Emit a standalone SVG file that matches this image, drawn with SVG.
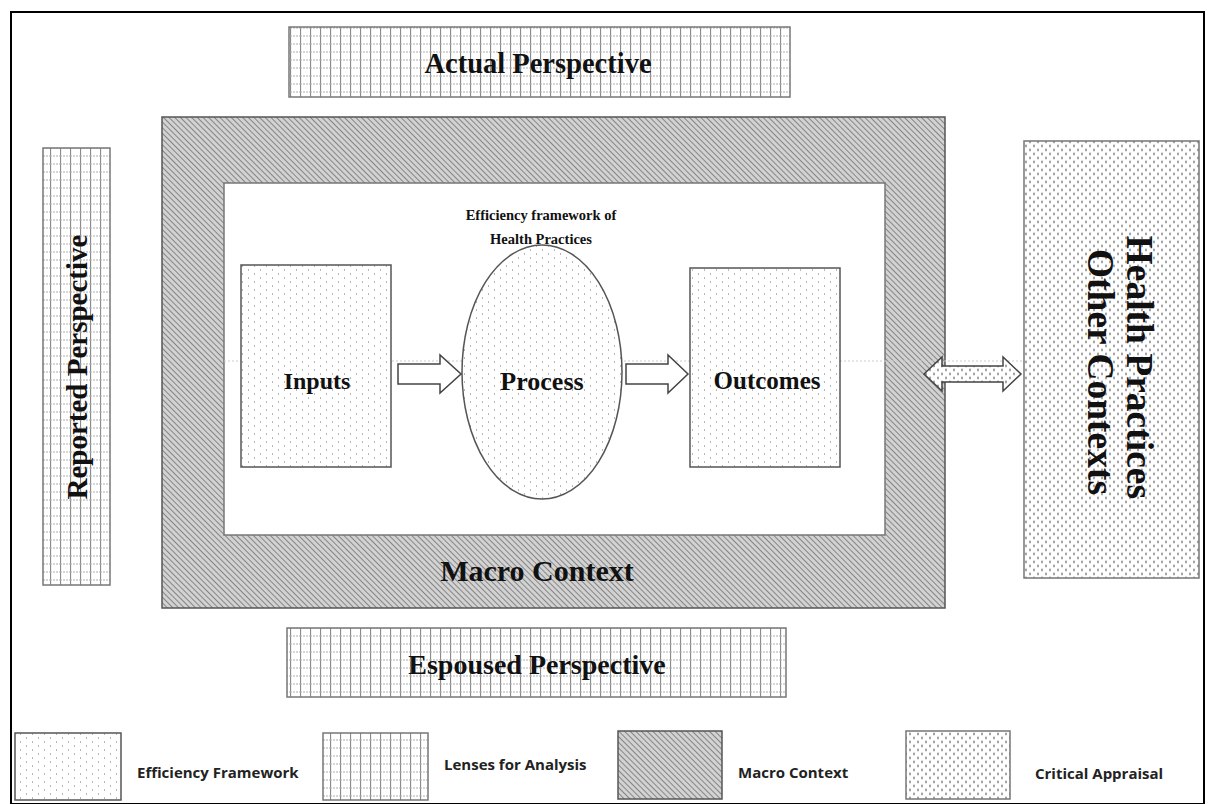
<svg xmlns="http://www.w3.org/2000/svg" width="1213" height="804" viewBox="0 0 1213 804">
  <defs>
    <!-- grid fill for the perspective lenses -->
    <pattern id="grid" width="10" height="8" patternUnits="userSpaceOnUse">
      <rect width="10" height="8" fill="#fff"/>
      <line x1="0.5" y1="0" x2="0.5" y2="8" stroke="#8a8a8a" stroke-width="1.2"/>
      <line x1="0" y1="4" x2="10" y2="4" stroke="#b0b0b0" stroke-width="1" stroke-dasharray="2 1"/>
    </pattern>
    <!-- diagonal hatch for the macro context -->
    <pattern id="hatch" width="4" height="4" patternUnits="userSpaceOnUse" patternTransform="rotate(-45)">
      <rect width="4" height="4" fill="#d2d2d2"/>
      <line x1="0" y1="0" x2="0" y2="4" stroke="#858585" stroke-width="2"/>
    </pattern>
    <!-- sparse dots for the efficiency framework -->
    <pattern id="dots" width="12" height="8" patternUnits="userSpaceOnUse">
      <rect width="12" height="8" fill="#fff"/>
      <rect x="2" y="1" width="1" height="2" fill="#b8b8b8"/>
      <rect x="8" y="5" width="1" height="2" fill="#b8b8b8"/>
    </pattern>
    <!-- denser dots for critical appraisal -->
    <pattern id="dense" width="8" height="8" patternUnits="userSpaceOnUse">
      <rect width="8" height="8" fill="#fff"/>
      <ellipse cx="2" cy="2" rx="1" ry="1.4" fill="#9a9a9a"/>
      <ellipse cx="6" cy="6" rx="1" ry="1.4" fill="#9a9a9a"/>
    </pattern>
    <style>
      .lens { fill: url(#grid); stroke: #777; stroke-width: 1.5; }
      .eff { fill: url(#dots); stroke: #555; stroke-width: 1.5; }
      .crit { fill: url(#dense); stroke: #777; stroke-width: 1.5; }
      .macro { fill: url(#hatch); stroke: #555; stroke-width: 1.5; }
      .title { font-family: "Liberation Serif", "Times New Roman", serif; font-weight: bold; fill: #111; text-anchor: middle; }
      .legend { font-family: "Open Sans", "Liberation Sans", sans-serif; font-weight: bold; font-size: 15px; fill: #222; }
      .arrow { fill: #fff; stroke: #444; stroke-width: 1.5; }
    </style>
  </defs>

  <rect width="1213" height="804" fill="#fff"/>
  <!-- outer frame -->
  <rect x="11" y="12" width="1193" height="792" fill="none" stroke="#000" stroke-width="2"/>

  <g id="actual-perspective">
    <rect class="lens" x="289" y="27" width="501" height="70"/>
    <text class="title" x="538" y="73" font-size="28.5">Actual Perspective</text>
  </g>

  <g id="macro-context">
    <rect class="macro" x="162" y="117" width="783" height="491"/>
    <rect x="224" y="183" width="661" height="352" fill="#fff" stroke="#777" stroke-width="1.5"/>
    <line x1="224" y1="361" x2="1024" y2="361" stroke="#ccc" stroke-width="1" stroke-dasharray="2 2"/>
    <text class="title" x="537" y="581" font-size="30">Macro Context</text>
  </g>

  <g id="reported-perspective">
    <rect class="lens" x="43" y="148" width="67" height="437"/>
    <text class="title" font-size="29" transform="translate(87,367) rotate(-90)">Reported Perspective</text>
  </g>

  <g id="espoused-perspective">
    <rect class="lens" x="287" y="628" width="499" height="69"/>
    <text class="title" x="537" y="674" font-size="28">Espoused Perspective</text>
  </g>

  <g id="other-contexts">
    <rect class="crit" x="1024" y="141" width="175" height="437"/>
    <text class="title" font-size="37.5" transform="translate(1127,372) rotate(90)">
      <tspan x="0" y="0">Health Practices</tspan>
      <tspan x="0" y="39">Other Contexts</tspan>
    </text>
  </g>

  <g id="framework-title">
    <text class="title" x="541" y="220" font-size="14.5">Efficiency framework of</text>
    <text class="title" x="541" y="244" font-size="14.5">Health Practices</text>
  </g>

  <g id="inputs">
    <rect class="eff" x="241" y="265" width="150" height="202"/>
    <text class="title" x="317" y="389" font-size="24">Inputs</text>
  </g>

  <g id="process">
    <ellipse class="eff" cx="542" cy="372" rx="80" ry="127"/>
    <text class="title" x="542" y="390" font-size="26">Process</text>
  </g>

  <g id="outcomes">
    <rect class="eff" x="690" y="268" width="150" height="199"/>
    <text class="title" x="767" y="389" font-size="25">Outcomes</text>
  </g>

  <g id="connectors">
    <path class="arrow" d="M398,364 H440 V355 L461,374 L440,393 V384 H398 Z"/>
    <path class="arrow" d="M626,364 H668 V355 L688,374 L668,393 V384 H626 Z"/>
    <path d="M924,374 L942,357 V366 H1003 V357 L1021,374 L1003,391 V382 H942 V391 Z" fill="url(#dense)" stroke="#444" stroke-width="1.5"/>
  </g>

  <g id="legend">
    <rect class="eff" x="15" y="733" width="106" height="67"/>
    <text class="legend" x="137" y="778">Efficiency Framework</text>
    <rect class="lens" x="323" y="733" width="105" height="67"/>
    <text class="legend" x="444" y="770">Lenses for Analysis</text>
    <rect class="macro" x="618" y="731" width="104" height="68"/>
    <text class="legend" x="738" y="778">Macro Context</text>
    <rect class="crit" x="906" y="731" width="104" height="68"/>
    <text class="legend" x="1035" y="779">Critical Appraisal</text>
  </g>
</svg>
